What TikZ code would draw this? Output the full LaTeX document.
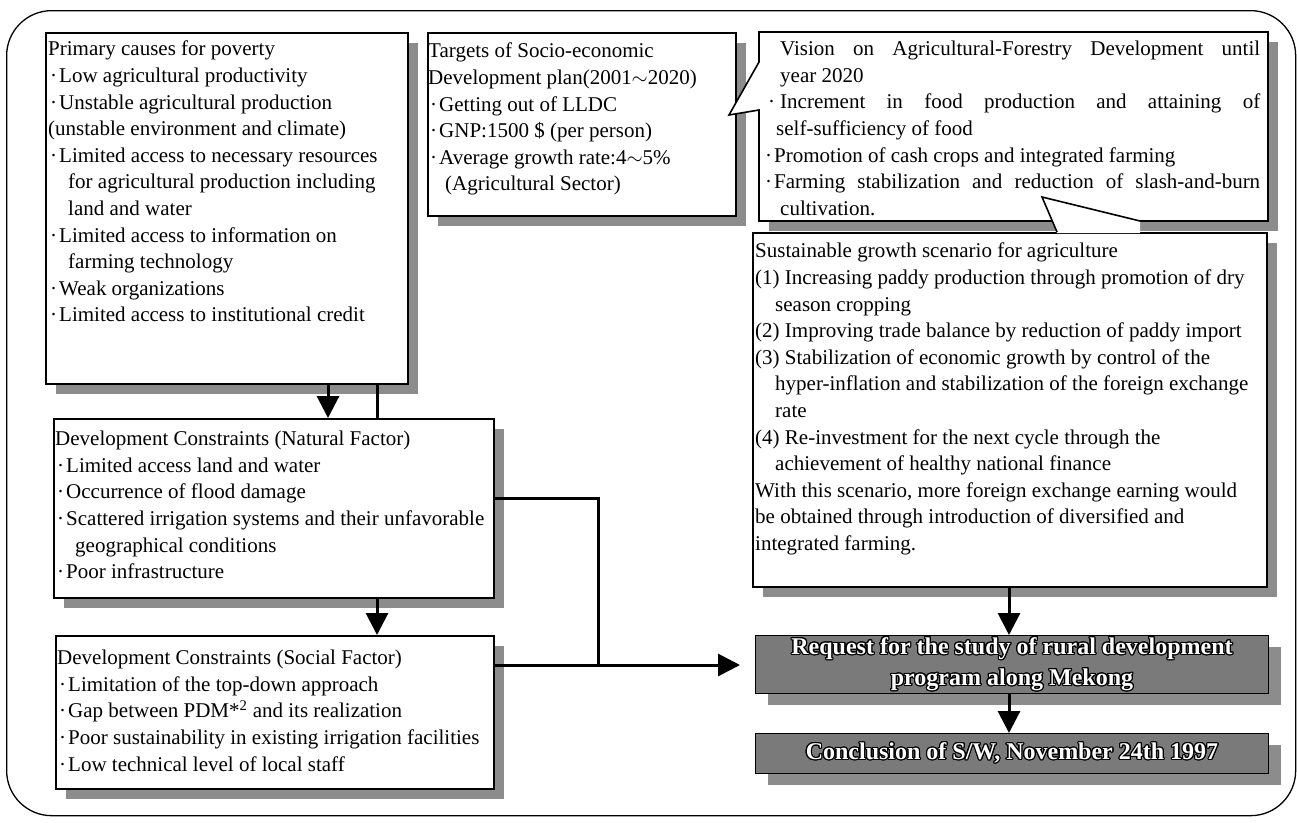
\documentclass[tikz,border=0pt]{standalone}
\usepackage{fontspec}
\setmainfont{Liberation Serif}
\usepackage{contour}
\contourlength{1.2pt}
\usetikzlibrary{arrows.meta,shadows}

\newcommand{\dotb}{\makebox[11pt][c]{·}}

\tikzset{
  frame/.style={draw, line width=1.3pt, rounded corners=45pt, inner sep=0pt},
  shd/.style={drop shadow={shadow xshift=10pt, shadow yshift=-10pt, fill=black!45, opacity=1}},
  dshd/.style={drop shadow={shadow xshift=12pt, shadow yshift=-11pt, fill=black!45, opacity=1}},
  box/.style={draw, line width=1.6pt, fill=white, inner sep=0pt},
  dark/.style={draw, line width=1pt, fill=black!52, inner sep=0pt},
  body/.style={inner sep=0pt, align=left, anchor=north west, font=\fontsize{21}{26.6}\selectfont},
  darktext/.style={inner sep=0pt, text=white, align=center, font=\fontsize{24}{31}\selectfont\bfseries},
  link/.style={line width=3pt, line join=miter},
  flow/.style={line width=3pt, -{Triangle[width=22pt,length=22pt]}}
}

\begin{document}
\begin{tikzpicture}[x=1pt,y=-1pt]
\useasboundingbox (0,0) rectangle (1297,822);

% outer frame
\node[frame, minimum width=1289pt, minimum height=805pt, anchor=north west] (outer) at (6,10) {};

% column and row guides for the connectors
\coordinate (colA) at (328,0);
\coordinate (colB) at (377,0);
\coordinate (colC) at (1009,0);
\coordinate (colD) at (598,0);
\coordinate (rowN) at (0,498);
\coordinate (rowS) at (0,665);

% plain boxes
\node[box, shd, minimum width=362pt, minimum height=351pt, anchor=north west] (prim) at (45,32) {};
\node[box, shd, minimum width=308pt, minimum height=183pt, anchor=north west] (targ) at (427,32) {};
\node[box, shd, minimum width=514pt, minimum height=354pt, anchor=north west] (sus) at (752,232) {};
\node[box, shd, minimum width=440pt, minimum height=179pt, anchor=north west] (nat) at (53,418) {};
\node[box, shd, minimum width=438pt, minimum height=153pt, anchor=north west] (soc) at (55,635) {};
\node[dark, dshd, minimum width=513pt, minimum height=58pt, anchor=north west] (req) at (755,635) {};
\node[dark, dshd, minimum width=513pt, minimum height=40pt, anchor=north west] (con) at (755,733) {};

% vision callout with its pointer towards the targets box
\coordinate (vis) at (1013,127);
\fill[black!45] (769,42) rectangle (1278,231);
\draw[line width=1.6pt, fill=white, line join=miter]
  (759,32) -- (1268,32) -- (1268,221) -- (759,221) -- (759,110) -- (729,115) -- (759,62) -- cycle;
\fill[white] (1042,197) -- (1057,233) -- (1140,233) -- (1140,221) -- cycle;
\draw[line width=1.6pt] (1057,232) -- (1042,197) -- (1140,221);

% texts
\node[body] (primT) at (48,41) {Primary causes for poverty\\
\dotb Low agricultural productivity\\
\dotb Unstable agricultural production\\
(unstable environment and climate)\\
\dotb Limited access to necessary resources\\
\hspace*{20pt}for agricultural production including\\
\hspace*{20pt}land and water\\
\dotb Limited access to information on\\
\hspace*{20pt}farming technology\\
\dotb Weak organizations\\
\dotb Limited access to institutional credit};

\node[body] (targT) at (428,43) {Targets of Socio-economic\\
Development plan(2001$\sim$2020)\\
\dotb Getting out of LLDC\\
\dotb GNP:1500 \$ (per person)\\
\dotb Average growth rate:4$\sim$5\%\\
\hspace*{17pt}(Agricultural Sector)};

\node[body] (visT) at (763,41) {\hspace*{17pt}\makebox[480pt][s]{Vision on Agricultural-Forestry Development until}\\
\hspace*{17pt}year 2020\\
\makebox[17pt][c]{·}\makebox[480pt][s]{Increment in food production and attaining of}\\
\hspace*{13pt}self-sufficiency of food\\
\dotb Promotion of cash crops and integrated farming\\
\dotb\makebox[486pt][s]{Farming stabilization and reduction of slash-and-burn}\\
\hspace*{17pt}cultivation.};

\node[body] (susT) at (755,243) {Sustainable growth scenario for agriculture\\
(1) Increasing paddy production through promotion of dry\\
\hspace*{20pt}season cropping\\
(2) Improving trade balance by reduction of paddy import\\
(3) Stabilization of economic growth by control of the\\
\hspace*{20pt}hyper-inflation and stabilization of the foreign exchange\\
\hspace*{20pt}rate\\
(4) Re-investment for the next cycle through the\\
\hspace*{20pt}achievement of healthy national finance\\
With this scenario, more foreign exchange earning would\\
be obtained through introduction of diversified and\\
integrated farming.};

\node[body] (natT) at (55,431) {Development Constraints (Natural Factor)\\
\dotb Limited access land and water\\
\dotb Occurrence of flood damage\\
\dotb Scattered irrigation systems and their unfavorable\\
\hspace*{20pt}geographical conditions\\
\dotb Poor infrastructure};

\node[body] (socT) at (57,650) {Development Constraints (Social Factor)\\
\dotb Limitation of the top-down approach\\
\dotb Gap between PDM*\textsuperscript{2} and its realization\\
\dotb Poor sustainability in existing irrigation facilities\\
\dotb Low technical level of local staff};

\node[darktext] (reqT) at (req.center) {\contour{black}{Request for the study of rural development}\\\contour{black}{program along Mekong}};
\node[darktext] (conT) at (con.center) {\contour{black}{Conclusion of S/W, November 24th 1997}};

% connectors
\draw[flow] (prim.south -| colA) -- (nat.north -| colA);
\draw[link] (prim.south -| colB) -- (nat.north -| colB);
\draw[flow] (nat.south -| colB) -- (soc.north -| colB);
\draw[link] (nat.east |- rowN) -| (colD |- rowS);
\draw[flow, shorten >=15pt] (soc.east |- rowS) -- (req.west |- rowS);
\draw[flow] (sus.south -| colC) -- (req.north -| colC);
\draw[flow] (req.south -| colC) -- (con.north -| colC);
\end{tikzpicture}
\end{document}
